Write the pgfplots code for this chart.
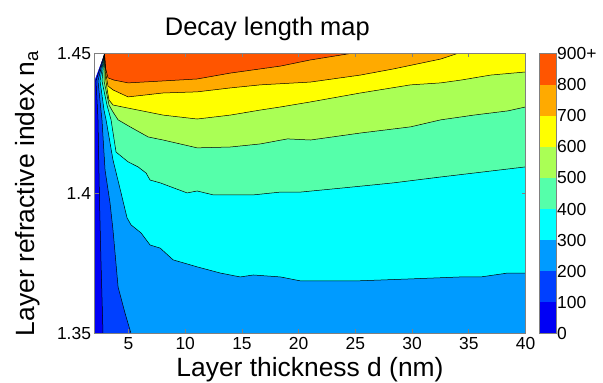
\documentclass[border=0pt]{standalone}
\usepackage{fontspec}
\setmainfont{Liberation Sans}
\usepackage{pgfplots}
\pgfplotsset{compat=1.18}
\usepackage{pgfplotstable}
\definecolor{b0}{RGB}{0,0,245}
\definecolor{b1}{RGB}{0,64,255}
\definecolor{b2}{RGB}{0,155,255}
\definecolor{b3}{RGB}{0,255,255}
\definecolor{b4}{RGB}{85,255,170}
\definecolor{b5}{RGB}{170,255,85}
\definecolor{b6}{RGB}{255,255,0}
\definecolor{b7}{RGB}{255,170,0}
\definecolor{b8}{RGB}{255,85,0}
\definecolor{frame}{RGB}{128,128,128}

% contour level 100
\pgfplotstableread{
x y
2.88 1.4499
2.13 1.4402
2.27 1.4298
2.31 1.4263
2.44 1.3977
2.57 1.3762
2.75 1.35
}\cA
% level 200
\pgfplotstableread{
x y
2.88 1.4499
2.31 1.4402
2.57 1.4298
2.66 1.4263
2.93 1.4084
3.37 1.3966
3.63 1.3870
4.08 1.3666
4.69 1.3573
5.22 1.35
}\cB
% level 300
\pgfplotstableread{
x y
2.88 1.4499
2.49 1.4402
2.84 1.4298
3.02 1.4263
3.63 1.4120
4.30 1.4009
4.87 1.3913
5.22 1.3888
6.11 1.3859
6.90 1.3816
7.79 1.3805
8.93 1.3763
11.05 1.3738
13.09 1.3716
14.85 1.3702
16.00 1.3709
18.39 1.3702
20.15 1.3688
25.19 1.3688
29.87 1.3695
34.29 1.3702
36.06 1.3702
38.44 1.3716
40.00 1.3716
}\cC
% level 400
\pgfplotstableread{
x y
2.88 1.4499
2.66 1.4402
3.10 1.4316
3.46 1.4263
3.90 1.4148
4.96 1.4113
5.84 1.4095
6.55 1.4073
6.90 1.4048
7.79 1.4038
10.17 1.4002
11.05 1.4009
12.47 1.3995
16.00 1.3995
18.39 1.4005
20.15 1.4005
23.95 1.4020
28.37 1.4038
32.52 1.4059
35.44 1.4073
40.00 1.4095
}\cD
% level 500
\pgfplotstableread{
x y
2.88 1.4499
2.84 1.4402
3.10 1.4352
3.28 1.4316
3.63 1.4291
4.08 1.4263
5.14 1.4238
6.73 1.4202
8.05 1.4191
11.05 1.4163
13.97 1.4166
16.62 1.4177
19.01 1.4195
21.04 1.4191
25.45 1.4216
29.87 1.4238
32.52 1.4263
35.44 1.4280
38.44 1.4295
40.00 1.4309
}\cE
% level 600
\pgfplotstableread{
x y
2.88 1.4499
2.97 1.4413
3.15 1.4363
3.28 1.4334
3.63 1.4316
4.96 1.4305
8.05 1.4280
11.05 1.4266
13.97 1.4280
16.62 1.4298
18.39 1.4309
21.04 1.4327
25.45 1.4359
29.87 1.4388
32.52 1.4395
34.29 1.4405
36.94 1.4423
40.00 1.4434
}\cF
% level 700
\pgfplotstableread{
x y
2.88 1.4499
3.02 1.4423
3.19 1.4384
3.63 1.4370
4.96 1.4345
8.05 1.4359
11.05 1.4363
13.97 1.4377
16.62 1.4388
21.04 1.4398
25.45 1.4423
28.37 1.4445
32.50 1.4480
34.00 1.4500
}\cG
% level 800
\pgfplotstableread{
x y
2.88 1.4499
2.97 1.4448
3.19 1.4413
3.72 1.4405
4.96 1.4395
8.05 1.4402
11.05 1.4409
13.97 1.4430
16.62 1.4445
18.39 1.4455
21.04 1.4477
24.57 1.4500
}\cH

\begin{document}
\begin{tikzpicture}
\path[use as bounding box] (0,0) rectangle (603bp,383bp);
\begin{axis}[
  at={(94.5bp,49.5bp)}, anchor=south west,
  scale only axis, width=431bp, height=280bp,
  xmin=2, xmax=40, ymin=1.35, ymax=1.45,
  xtick={5,10,...,40},
  ytick={1.35,1.4,1.45}, yticklabels={1.35,1.4,1.45},
  tick align=inside, major tick length=4bp, tick pos=both,
  axis on top,
  axis line style={frame, line width=0.6bp},
  tick style={frame, line width=0.6bp},
  ticklabel style={font=\fontsize{17.5}{20}\selectfont},
  /pgf/number format/assume math mode=true,
  title={Decay length map},
  every axis title/.style={at={(axis description cs:0.401,1.066)}, anchor=base, font=\fontsize{25.5}{30}\selectfont},
  xlabel={Layer thickness d (nm)},
  every axis x label/.style={at={(axis description cs:0.5,-0.1536)}, anchor=base, font=\fontsize{26.5}{30}\selectfont},
  ylabel={Layer refractive index n\textsubscript{a}},
  every axis y label/.style={at={(axis description cs:-0.1392,0.5)}, rotate=90, anchor=base, font=\fontsize{26.5}{30}\selectfont},
  no markers,
]
\addplot[fill=b0, draw=none] coordinates {(2,1.35) (40,1.35) (40,1.45) (2,1.45)} -- cycle;
\addplot[fill=b1, draw=none] table {\cA} -- (rel axis cs:1,0) -- (rel axis cs:1,1) -- cycle;
\addplot[fill=b2, draw=none] table {\cB} -- (rel axis cs:1,0) -- (rel axis cs:1,1) -- cycle;
\addplot[fill=b3, draw=none] table {\cC} -- (rel axis cs:1,1) -- cycle;
\addplot[fill=b4, draw=none] table {\cD} -- (rel axis cs:1,1) -- cycle;
\addplot[fill=b5, draw=none] table {\cE} -- (rel axis cs:1,1) -- cycle;
\addplot[fill=b6, draw=none] table {\cF} -- (rel axis cs:1,1) -- cycle;
\addplot[fill=b7, draw=none] table {\cG} -- cycle;
\addplot[fill=b8, draw=none] table {\cH} -- cycle;
\addplot[fill=white, draw=none] coordinates {(2,1.45) (2.88,1.45) (2,1.4404)} -- cycle;
\addplot[black, line width=0.5bp] table {\cA};
\addplot[black, line width=0.5bp] table {\cB};
\addplot[black, line width=0.5bp] table {\cC};
\addplot[black, line width=0.5bp] table {\cD};
\addplot[black, line width=0.5bp] table {\cE};
\addplot[black, line width=0.5bp] table {\cF};
\addplot[black, line width=0.5bp] table {\cG};
\addplot[black, line width=0.5bp] table {\cH};
\end{axis}
\begin{axis}[
  at={(539bp,49.5bp)}, anchor=south west,
  scale only axis, width=17bp, height=280bp,
  xmin=0, xmax=1, ymin=0, ymax=900,
  xtick=\empty,
  ytick={0,100,...,900},
  yticklabels={0,100,200,300,400,500,600,700,800,900+},
  yticklabel pos=right,
  major tick length=0pt,
  axis on top,
  axis line style={frame, line width=0.6bp},
  yticklabel style={font=\fontsize{17.5}{20}\selectfont, inner sep=1bp},
]
\addplot[fill=b0, draw=none] coordinates {(0,0) (1,0) (1,100) (0,100)} -- cycle;
\addplot[fill=b1, draw=none] coordinates {(0,100) (1,100) (1,200) (0,200)} -- cycle;
\addplot[fill=b2, draw=none] coordinates {(0,200) (1,200) (1,300) (0,300)} -- cycle;
\addplot[fill=b3, draw=none] coordinates {(0,300) (1,300) (1,400) (0,400)} -- cycle;
\addplot[fill=b4, draw=none] coordinates {(0,400) (1,400) (1,500) (0,500)} -- cycle;
\addplot[fill=b5, draw=none] coordinates {(0,500) (1,500) (1,600) (0,600)} -- cycle;
\addplot[fill=b6, draw=none] coordinates {(0,600) (1,600) (1,700) (0,700)} -- cycle;
\addplot[fill=b7, draw=none] coordinates {(0,700) (1,700) (1,800) (0,800)} -- cycle;
\addplot[fill=b8, draw=none] coordinates {(0,800) (1,800) (1,900) (0,900)} -- cycle;
\end{axis}
\end{tikzpicture}
\end{document}
